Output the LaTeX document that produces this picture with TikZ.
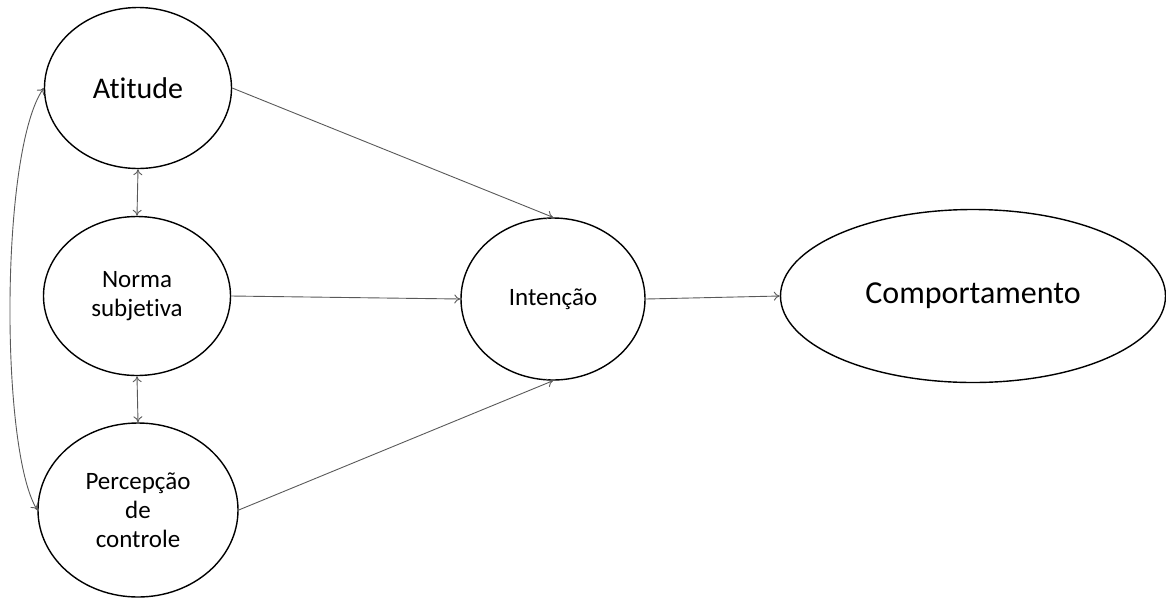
\documentclass[tikz,border=0pt]{standalone}
\usepackage{fontspec}
\setmainfont{Carlito}[Ligatures={NoCommon}]
\usetikzlibrary{shapes.geometric,arrows.meta}
\begin{document}
\begin{tikzpicture}[x=1pt,y=-1pt,
  ell/.style={draw=black,line width=1.4pt,ellipse,inner sep=0pt,align=center,fill=white},
  conn/.style={draw=black!65,line width=0.9pt,-{To[length=6pt,width=9pt]}},
  dconn/.style={draw=black!65,line width=0.9pt,{To[length=6pt,width=9pt]}-{To[length=6pt,width=9pt]}}]
\useasboundingbox (0,0) rectangle (1166,598);
\node[ell,minimum width=187pt,minimum height=161pt,font=\fontsize{30}{33}\selectfont] (A) at (138,88) {Atitude};
\node[ell,minimum width=187pt,minimum height=159pt,font=\fontsize{25}{29}\selectfont] (N) at (137,296) {Norma\\subjetiva};
\node[ell,minimum width=200pt,minimum height=174pt,font=\fontsize{25}{29}\selectfont] (P) at (138,510) {Percepção\\de\\controle};
\node[ell,minimum width=184pt,minimum height=162pt,font=\fontsize{25}{28}\selectfont] (I) at (553,299) {Intenção};
\node[ell,minimum width=385pt,minimum height=173pt,font=\fontsize{32}{36}\selectfont] (C) at (973,296) {Comportamento};
\draw[conn] (A.east) -- (I.north);
\draw[conn] (N.east) -- (I.west);
\draw[conn] (P.east) -- (I.south);
\draw[conn] (I.east) -- (C.west);
\draw[dconn] (A.south) -- (N.north);
\draw[dconn] (N.south) -- (P.north);
\draw[dconn] (P.west) .. controls (0,450) and (0,150) .. (A.west);
\end{tikzpicture}
\end{document}
